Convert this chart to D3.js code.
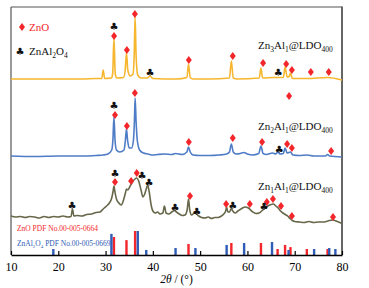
<!DOCTYPE html>
<html><head><meta charset="utf-8">
<script src="https://cdn.jsdelivr.net/npm/d3@7"></script>
<style>body{margin:0;background:#fff}svg{display:block}</style>
</head><body><svg id="c" width="369" height="288"></svg>
<script>
// ---------- data ----------
const xTicks = [10,20,30,40,50,60,70,80];
// [2theta, intensity (a.u., stacked)]
const zn3Al1 = [[10,176],[15,176],[20,176],[25,176],[28,176.5],[29.2,176.5],[29.5,185],[29.8,176.5],[31.2,177],[31.5,181],[31.77,217],[32.05,181],[32.4,177],[33.8,177.5],[34.15,185],[34.42,202],[34.7,185],[35.2,179],[35.8,181],[36.05,200],[36.25,238],[36.45,200],[36.8,180],[37.5,177],[38.8,177],[39.4,179],[40,176.5],[45,176],[47.2,177.5],[47.54,191],[47.9,177.5],[48.5,176],[52,176],[56.2,177],[56.6,194],[57.0,177],[57.8,176],[62.5,177],[62.86,187],[63.2,177],[65.5,177.5],[67.6,177.5],[67.96,188],[68.4,178],[68.8,178.5],[69.1,182],[69.5,176.5],[72.6,176.5],[76.95,177.5],[80,175]];
const zn2Al1 = [[10,99],[15,98.5],[20,99],[25,99],[28,99.5],[29.5,100],[30.5,101],[31.3,105],[31.55,115],[31.77,138],[32.0,115],[32.3,105],[33.0,103],[33.9,105],[34.2,115],[34.42,126],[34.65,115],[35.0,107],[35.5,107],[35.9,115],[36.1,134],[36.25,157],[36.45,134],[36.7,115],[37.2,105],[38,102],[39,101],[40,100],[41,100.5],[42.5,101],[44,100.5],[44.8,101.5],[46.2,100.5],[47.2,103],[47.54,108],[47.9,103],[48.5,100],[50,99.5],[52,99.5],[54,100],[55.6,101],[56.2,103],[56.6,111],[57.0,103],[57.6,101],[58.5,101.5],[59.2,102.5],[60,101],[61,100],[62.4,101.5],[62.86,109],[63.3,101.5],[64,100.5],[65.3,102],[66.0,101],[66.4,103],[66.9,101],[67.6,101.5],[67.96,107],[68.4,102],[69.1,103],[69.6,100],[71,99.5],[72.6,100],[74,99],[76.5,99],[76.95,100.5],[77.4,99],[80,98]];
const zn1Al1 = [[10,39],[11,38],[12,38.5],[13,37.5],[14,38.5],[15,38],[16,37],[17,38.5],[18,37.5],[19,38.5],[20,38],[21,39],[22,38],[22.7,38.5],[23.0,46],[23.3,39],[24,39.5],[25,39],[26,40.5],[27,41],[28,42.5],[28.8,43],[29.5,46],[30.2,49],[30.8,52],[31.3,57],[31.6,64],[31.77,69],[31.95,64],[32.3,56],[32.8,52],[33.3,50],[33.8,55],[34.2,62],[34.42,66],[34.7,65],[35.2,69],[35.7,73],[36.2,76],[36.6,77],[37.0,74],[37.5,65],[37.9,58],[38.2,60],[38.6,66],[38.9,70],[39.2,64],[39.6,51],[40.0,44],[40.5,42],[41.0,43],[41.5,41],[42.1,42],[42.45,49],[42.8,42],[43.4,41],[44.0,43],[44.6,44.5],[45.0,43],[45.6,41],[46.2,39.5],[46.8,40],[47.25,45],[47.54,56],[47.8,45],[48.2,40],[48.8,42],[49.2,41],[49.7,39],[50.3,37.5],[51,37],[51.7,38],[52.4,36.5],[53.1,37.5],[53.8,37.5],[54.5,39],[55.0,41],[55.4,44],[55.6,48],[55.85,43],[56.2,43],[56.6,46.5],[56.9,44],[57.4,42],[58.0,44],[58.8,46.5],[59.5,48],[60.2,47],[61.0,43.5],[61.8,41.5],[62.5,42],[63.0,44],[63.5,46],[64.0,48],[64.5,49.5],[65.0,50.5],[65.5,51],[66.0,49],[66.5,47],[67.0,44],[67.5,42],[68.0,40.5],[68.5,39],[69.0,36.5],[69.5,34.5],[70.0,33.5],[71,33],[72,32.5],[73,33.5],[74,32.5],[75,33],[76,33],[77,34],[78,35],[79,33.5],[80,31.5]];
const seriesColors = ["#F6B62E","#4F7CC6","#67674A"];
const seriesLabels = [["Zn","3","Al","1","@LDO","400"],["Zn","2","Al","1","@LDO","400"],["Zn","1","Al","1","@LDO","400"]];
const labelValues = [206, 125, 65];
// reference patterns: [2theta, relative intensity]
const znoRef = [[31.77,75],[34.42,62],[36.25,100],[47.54,46],[56.6,50],[62.86,50],[66.38,25],[67.96,42],[69.1,33],[72.56,25],[76.95,25]];
const spinelRef = [[18.95,25],[31.24,88],[36.81,100],[38.6,21],[44.8,29],[49.0,29],[55.6,42],[59.3,50],[65.2,54],[68.7,21],[74.1,25],[77.3,29],[78.6,25]];
// phase markers on curves [2theta, intensity]
const diamonds = [[36.2,241],[31.8,219],[34.5,205],[47.6,195],[56.9,199],[63.3,192],[68.2,191],[69.4,185],[73.4,183],[77.2,183],
  [36.2,162],[32.0,140],[34.5,129],[47.6,113],[56.9,117],[63.1,113],[68.4,111],[69.4,107],[77.7,104],[68.8,159],
  [32.0,73],[35.4,74],[36.6,82],[47.85,59],[55.5,51],[60.5,51],[64.1,53],[65.4,56],[67.1,49],[69.4,39],[78.1,38]];
const clubs = [[31.8,229],[39.4,183],[66.5,183],[31.8,150],[66.7,106],
  [32.0,82],[37.7,80],[39.2,73],[22.9,50],[44.7,48],[49.3,44],[56.9,50],[63.5,49]];

// ---------- layout ----------
const L=11, R=342, T=7, B=255;
const svg = d3.select("#c");
const x = d3.scaleLinear().domain([10,80]).range([L,R]);
const y = d3.scaleLinear().domain([0,248]).range([B,T]);
const yRef = d3.scaleLinear().domain([0,100]).range([B,B-24]);
const serif = "'Liberation Serif','Times New Roman',serif";

// frame
svg.append("line").attr("x1",L).attr("x2",L).attr("y1",T).attr("y2",B).attr("stroke","#555").attr("stroke-width",1.2);
svg.append("line").attr("x1",L).attr("x2",R).attr("y1",T).attr("y2",T).attr("stroke","#555").attr("stroke-width",1.2);
svg.append("line").attr("x1",R).attr("x2",R).attr("y1",T-0.6).attr("y2",B).attr("stroke","#666").attr("stroke-width",2);

// reference bars
const bw = 2.4;
svg.append("g").selectAll("rect").data(znoRef).join("rect")
  .attr("x",d=>x(d[0])-bw/2).attr("width",bw).attr("y",d=>yRef(d[1])).attr("height",d=>B-yRef(d[1])).attr("fill","#F2262B");
svg.append("g").selectAll("rect").data(spinelRef).join("rect")
  .attr("x",d=>x(d[0])-bw/2).attr("width",bw).attr("y",d=>yRef(d[1])).attr("height",d=>B-yRef(d[1])).attr("fill","#2F5CB5");

// curves
const line = d3.line().x(d=>x(d[0])).y(d=>y(d[1])).curve(d3.curveMonotoneX);
[zn3Al1,zn2Al1,zn1Al1].forEach((s,i)=>{
  svg.append("path").datum(s).attr("d",line).attr("fill","none").attr("stroke",seriesColors[i]).attr("stroke-width",1.6).attr("stroke-linejoin","round");
});

// x axis
const ax = svg.append("g").attr("transform",`translate(0,${B})`)
  .call(d3.axisBottom(x).tickValues(xTicks).tickSizeInner(-4).tickSizeOuter(0).tickPadding(7));
ax.select(".domain").attr("stroke","#000").attr("stroke-width",1.5);
ax.selectAll(".tick line").attr("stroke","#000").attr("stroke-width",1.2);
ax.selectAll(".tick text").attr("font-family",serif).attr("font-size",12).attr("fill","#000");

// axis title
const at = svg.append("text").attr("x",(L+R)/2).attr("y",283).attr("text-anchor","middle").attr("font-family",serif).attr("font-size",11.5).attr("fill","#000");
at.append("tspan").attr("font-style","italic").text("2θ");
at.append("tspan").text(" / (°)");

// markers
const diamondType = {draw(ctx,size){const r=Math.sqrt(size)/2;ctx.moveTo(0,-r*1.3);ctx.lineTo(r,0);ctx.lineTo(0,r*1.3);ctx.lineTo(-r,0);ctx.closePath();}};
const dsym = d3.symbol().type(diamondType).size(36);
svg.append("g").selectAll("path").data(diamonds).join("path")
  .attr("transform",d=>`translate(${x(d[0])},${y(d[1])})`).attr("d",dsym).attr("fill","#F2262B");
svg.append("g").selectAll("text").data(clubs).join("text")
  .attr("x",d=>x(d[0])).attr("y",d=>y(d[1])).attr("dy","0.36em").attr("text-anchor","middle")
  .attr("font-family","'DejaVu Sans'").attr("font-size",10).attr("fill","#111").text("♣");

// series labels
seriesLabels.forEach((parts,i)=>{
  const t = svg.append("text").attr("x",258).attr("y",y(labelValues[i])).attr("font-family",serif).attr("font-size",11).attr("fill","#111");
  parts.forEach((p,j)=>{
    const sub = j%2===1;
    const ts = t.append("tspan").text(p);
    if(sub){ts.attr("font-size",7.5).attr("dy",3);} else if(j>0){ts.attr("dy",-3);}
  });
});

// top-left legend
svg.append("path").attr("transform","translate(22,27)").attr("d",dsym).attr("fill","#F2262B");
svg.append("text").attr("x",29).attr("y",31).attr("font-family",serif).attr("font-size",11).attr("fill","#F2262B").text("ZnO");
svg.append("text").attr("x",20).attr("y",51).attr("dy","0.36em").attr("text-anchor","middle").attr("font-family","'DejaVu Sans'").attr("font-size",10).attr("fill","#111").text("♣");
const lg = svg.append("text").attr("x",29).attr("y",55).attr("font-family",serif).attr("font-size",11).attr("fill","#111");
[["ZnAl",0],["2",1],["O",0],["4",1]].forEach(([p,s],j)=>{const ts=lg.append("tspan").text(p); if(s){ts.attr("font-size",7.5).attr("dy",3);} else if(j>0){ts.attr("dy",-3);}});

// reference legend
svg.append("text").attr("x",17).attr("y",231).attr("font-family",serif).attr("font-size",7.5).attr("fill","#F2262B").text("ZnO PDF No.00-005-0664");
const rl = svg.append("text").attr("x",17).attr("y",245.5).attr("font-family",serif).attr("font-size",7.5).attr("fill","#2F5CB5");
rl.append("tspan").text("ZnAl");
rl.append("tspan").attr("font-size",5).attr("dy",2).text("2");
rl.append("tspan").attr("dy",-2).text("O");
rl.append("tspan").attr("font-size",5).attr("dy",2).text("4");
rl.append("tspan").attr("dy",-2).text(" PDF No.00-005-0669");
</script></body></html>
